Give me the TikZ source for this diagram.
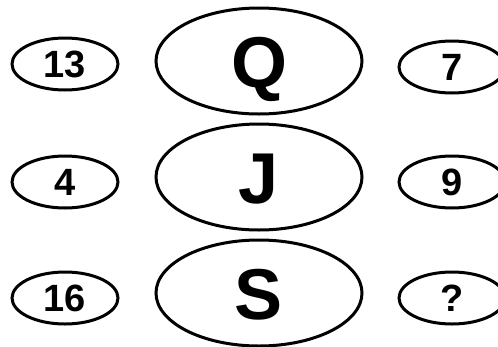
\documentclass[tikz,border=0pt]{standalone}
\usepackage{fontspec}
\setmainfont{Liberation Sans}
\usetikzlibrary{shapes.geometric}
\tikzset{
  small/.style={ellipse, draw=black, line width=3pt, inner sep=0pt,
    minimum width=106pt, minimum height=52pt,
    font=\fontsize{38}{38}\selectfont\bfseries, text height=27pt, text depth=0pt},
  big/.style={ellipse, draw=black, line width=3pt, inner sep=0pt,
    minimum width=206pt, minimum height=106pt,
    font=\fontsize{72}{72}\selectfont\bfseries, text height=52pt, text depth=0pt},
}
\begin{document}
\begin{tikzpicture}[x=1pt,y=-1pt]
\useasboundingbox (0,0) rectangle (498,346);
\clip (0,0) rectangle (498,346);
\node[small] (n13) at (65,64) {13};
\node[big]   (q)   at (259,61) {Q};
\node[small] (n7)  at (452,67) {7};
\node[small] (n4)  at (65,182) {4};
\node[big]   (j)   at (259,177) {J};
\node[small] (n9)  at (452,182) {9};
\node[small] (n16) at (65,298) {16};
\node[big]   (s)   at (259,293) {S};
\node[small] (nq)  at (452,298) {?};
\end{tikzpicture}
\end{document}
